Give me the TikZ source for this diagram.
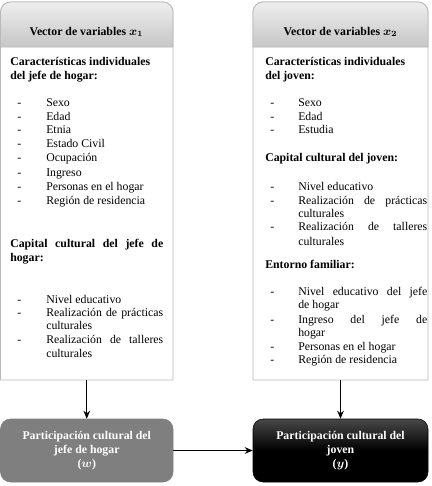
\documentclass[tikz,border=0pt]{standalone}
\usepackage{amsmath}
\usepackage{fontspec}
\setmainfont{Liberation Serif}
\usetikzlibrary{arrows.meta,fit}
\newlength\U \setlength\U{0.75pt}
\definecolor{bord}{RGB}{185,185,185}
\definecolor{htop}{RGB}{238,238,238}
\definecolor{hbot}{RGB}{198,198,198}
\definecolor{midgray}{RGB}{127,127,127}
\definecolor{dtop}{RGB}{72,72,72}
\tikzset{
 txt/.style={anchor=base west, inner sep=0pt, font=\fontsize{8.85}{10}\selectfont},
 hd/.style={anchor=base west, inner sep=0pt, font=\fontsize{8.85}{10}\selectfont\bfseries},
 ttl/.style={anchor=base, inner sep=0pt, font=\fontsize{8.85}{10}\selectfont\bfseries},
 panel/.style={draw=bord, line width=0.6pt, fill=white},
 header/.style={draw=bord, line width=0.6pt, top color=htop, bottom color=hbot},
 outbox/.style={inner sep=0pt, rounded corners=7.5pt, text=white, align=center,
   font=\fontsize{8.85}{10.5}\selectfont\bfseries},
 arr/.style={-{Stealth[length=6pt,width=5pt]}, line width=0.9pt, black},
}
\newcommand\Li[4]{\node[txt] (#1) at (#2,#3) {#4};}
\newcommand\Hd[4]{\node[hd] (#1) at (#2,#3) {#4};}
\newcommand\Dl[5]{\node[txt] (#1d) at (#2,#4) {-}; \node[txt] (#1) at (#3,#4) {#5};}
\newcommand\J[2]{\makebox[#1\U][s]{#2}}
\begin{document}
\begin{tikzpicture}[x=0.75pt,y=-0.75pt]
\useasboundingbox (0,0) rectangle (432,486);
% ---------- left panel
\path[panel] (86,380) -- (0.5,380) -- (0.5,30) [rounded corners=7.5pt] -- (0.5,2) -- (173,2) -- (173,30) [sharp corners] -- (173,380) -- cycle;
\path[header] (86,47) -- (0.5,47) -- (0.5,30) [rounded corners=7.5pt] -- (0.5,2) -- (173,2) -- (173,30) [sharp corners] -- (173,47) -- cycle;
\node[fit={(0.5,2)(173,380)}, inner sep=0pt] (box1) {};
\node[ttl] (t1) at (86.5,35) {Vector de variables $\boldsymbol{x}_{\boldsymbol{1}}$};
\Hd{l1}{10}{65}{Características individuales}
\Hd{l2}{10}{79}{del jefe de hogar:}
\Dl{a1}{17}{46}{106}{Sexo}
\Dl{a2}{17}{46}{120}{Edad}
\Dl{a3}{17}{46}{133.5}{Etnia}
\Dl{a4}{17}{46}{147.5}{Estado Civil}
\Dl{a5}{17}{46}{161.5}{Ocupación}
\Dl{a6}{17}{46}{176}{Ingreso}
\Dl{a7}{17}{46}{190}{Personas en el hogar}
\Dl{a8}{17}{46}{204}{Región de residencia}
\Hd{l3}{10}{247.5}{\J{153}{Capital cultural del jefe de}}
\Hd{l4}{10}{261}{hogar:}
\Dl{b1}{17}{46}{303.5}{Nivel educativo}
\Dl{b2}{17}{46}{316.5}{\J{117}{Realización de prácticas}}
\Li{b2b}{46}{329.5}{culturales}
\Dl{b3}{17}{46}{343.5}{\J{117}{Realización de talleres}}
\Li{b3b}{46}{357.5}{culturales}
% ---------- right panel
\path[panel] (340,380) -- (253,380) -- (253,30) [rounded corners=7.5pt] -- (253,2) -- (428,2) -- (428,30) [sharp corners] -- (428,380) -- cycle;
\path[header] (340,47) -- (253,47) -- (253,30) [rounded corners=7.5pt] -- (253,2) -- (428,2) -- (428,30) [sharp corners] -- (428,47) -- cycle;
\node[fit={(253,2)(428,380)}, inner sep=0pt] (box2) {};
\node[ttl] (t2) at (340.5,35) {Vector de variables $\boldsymbol{x}_{\boldsymbol{2}}$};
\Hd{r1}{265}{65}{Características individuales}
\Hd{r2}{265}{79}{del joven:}
\Dl{c1}{270}{298}{106}{Sexo}
\Dl{c2}{270}{298}{120}{Edad}
\Dl{c3}{270}{298}{133.5}{Estudia}
\Hd{r3}{265}{161.5}{Capital cultural del joven:}
\Dl{d1}{270}{298}{190.5}{Nivel educativo}
\Dl{d2}{270}{298}{204}{\J{129}{Realización de prácticas}}
\Li{d2b}{298}{217}{culturales}
\Dl{d3}{270}{298}{230.5}{\J{129}{Realización de talleres}}
\Li{d3b}{298}{245}{culturales}
\Hd{r4}{265}{268}{Entorno familiar:}
\Dl{e1}{270}{298}{295}{\J{129}{Nivel educativo del jefe}}
\Li{e1b}{298}{308}{de hogar}
\Dl{e2}{270}{298}{323}{\J{129}{Ingreso del jefe de}}
\Li{e2b}{298}{336.5}{hogar}
\Dl{e3}{270}{298}{350}{Personas en el hogar}
\Dl{e4}{270}{298}{363.5}{Región de residencia}
% ---------- outcome boxes
\node[outbox, fit={(0.5,419)(173,482)}, fill=midgray, draw=midgray] (out1) {};
\node[outbox, fit={(253,419)(428,482)}, top color=dtop, bottom color=black, middle color=black, draw=black] (out2) {};
\node[outbox] (o1t) at (out1.center) {Participación cultural del\\jefe de hogar\\($\boldsymbol{w}$)};
\node[outbox] (o2t) at (out2.center) {Participación cultural del\\joven\\($\boldsymbol{y}$)};
% ---------- connectors
\draw[arr] (box1.south) -- (out1.north);
\draw[arr] (box2.south) -- (out2.north);
\draw[arr] (out1.east) -- (out2.west);
\end{tikzpicture}
\end{document}
